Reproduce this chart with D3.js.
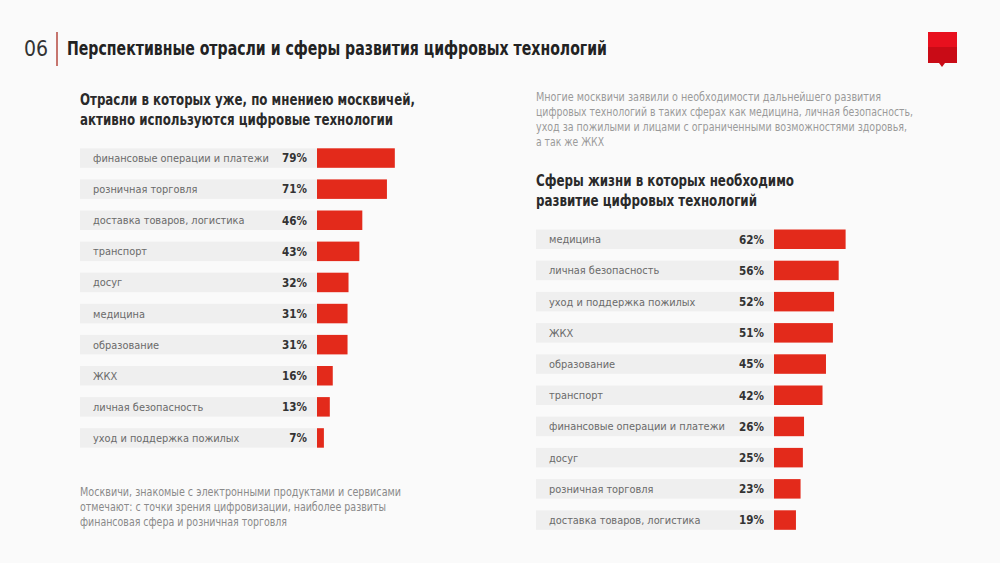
<!DOCTYPE html>
<html><head><meta charset="utf-8">
<script src="https://cdn.jsdelivr.net/npm/d3@7"></script>
<style>
html,body{margin:0;padding:0;background:#fafafa;}
svg{display:block;}
text{font-family:"Liberation Sans Narrow","DejaVu Sans Condensed","Roboto",sans-serif;}
</style></head>
<body>
<svg id="c" width="1000" height="563"></svg>
<script>
const leftCategories = ["финансовые операции и платежи","розничная торговля","доставка товаров, логистика","транспорт","досуг","медицина","образование","ЖКХ","личная безопасность","уход и поддержка пожилых"];
const leftValues = [79,71,46,43,32,31,31,16,13,7];
const rightCategories = ["медицина","личная безопасность","уход и поддержка пожилых","ЖКХ","образование","транспорт","финансовые операции и платежи","досуг","розничная торговля","доставка товаров, логистика"];
const rightValues = [62,56,52,51,45,42,26,25,23,19];

const svg = d3.select("#c");
svg.append("rect").attr("width",1000).attr("height",563).attr("fill","#fafafa");

// header
svg.append("text").attr("x",24).attr("y",56).attr("font-size",21).attr("fill","#333").attr("font-weight",300)
  .style("font-family","'DejaVu Sans Condensed','Liberation Sans Narrow',sans-serif").text("06");
svg.append("line").attr("x1",57).attr("x2",57).attr("y1",32).attr("y2",66).attr("stroke","#b5483f").attr("stroke-width",1.5);
svg.append("text").attr("x",67).attr("y",55).attr("font-size",19).attr("font-weight",700).attr("fill","#222")
  .attr("textLength",540).attr("lengthAdjust","spacingAndGlyphs")
  .text("Перспективные отрасли и сферы развития цифровых технологий");

// logo
const lg = svg.append("g");
lg.append("rect").attr("x",928).attr("y",32).attr("width",29).attr("height",15).attr("fill","#e8101e");
lg.append("rect").attr("x",928).attr("y",47).attr("width",29).attr("height",16).attr("fill","#c90b16");
lg.append("path").attr("d","M939,63 L945,63 L942,67 Z").attr("fill","#c90b16");

function multiline(x, y, lines, lh, size, color, weight, widths){
  const t = svg.append("text").attr("x",x).attr("y",y).attr("font-size",size).attr("fill",color).attr("font-weight",weight);
  lines.forEach((l,i)=>{
    const ts = t.append("tspan").attr("x",x).attr("y",y+i*lh).text(l);
    if(widths && widths[i]) ts.attr("textLength",widths[i]).attr("lengthAdjust","spacingAndGlyphs");
  });
}

multiline(80,105,["Отрасли в которых уже, по мнениею москвичей,","активно используются цифровые технологии"],20,16,"#2a2a2a",700,[335,313]);
multiline(536,186,["Сферы жизни в которых необходимо","развитие цифровых технологий"],20,16,"#2a2a2a",700,[258,221]);
multiline(536,101,["Многие москвичи заявили о необходимости дальнейшего развития","цифровых технологий в таких сферах как медицина, личная безопасность,","уход за пожилыми и лицами с ограниченными возможностями здоровья,","а так же ЖКХ"],15,11.5,"#9a9a9a",400,[345,377,371,68]);
multiline(80,496,["Москвичи, знакомые с электронными продуктами и сервисами","отмечают: с точки зрения цифровизации, наиболее развиты","финансовая сфера и розничная торговля"],15,11.5,"#8a8a8a",400,[321,306,207]);

function chart(cats, vals, opts){
  const y = d3.scaleBand().domain(cats).range([opts.top, opts.top + 9*opts.step + opts.bh]).paddingInner(1 - opts.bh/opts.step).paddingOuter(0);
  const x = d3.scaleLinear().domain([0,100]).range([opts.barX, opts.barX + opts.pxPer100]);
  const g = svg.append("g");
  const rows = g.selectAll("g").data(cats.map((c,i)=>({c, v:vals[i]}))).join("g");
  rows.append("rect").attr("x",opts.bandX).attr("y",d=>y(d.c)).attr("width",opts.barX-opts.bandX).attr("height",y.bandwidth()).attr("fill","#efefef");
  rows.append("rect").attr("x",x(0)).attr("y",d=>y(d.c)).attr("width",d=>x(d.v)-x(0)).attr("height",y.bandwidth()).attr("fill","#e32a1b");
  rows.append("text").attr("x",opts.labelX).attr("y",d=>y(d.c)+y.bandwidth()/2+4).attr("font-size",10.9).attr("fill","#6a6a6a").text(d=>d.c);
  rows.append("text").attr("x",opts.valX).attr("y",d=>y(d.c)+y.bandwidth()/2+4.3).attr("font-size",11.6).attr("font-weight",700).attr("fill","#333").attr("text-anchor","end").text(d=>d.v+"%");
}

chart(leftCategories, leftValues, {top:148.3, step:31.1, bh:19.5, bandX:80, barX:317, pxPer100:98.5, labelX:93, valX:307});
chart(rightCategories, rightValues, {top:229.5, step:31.2, bh:19.5, bandX:536, barX:774, pxPer100:115.5, labelX:549, valX:764});
</script>
</body></html>
